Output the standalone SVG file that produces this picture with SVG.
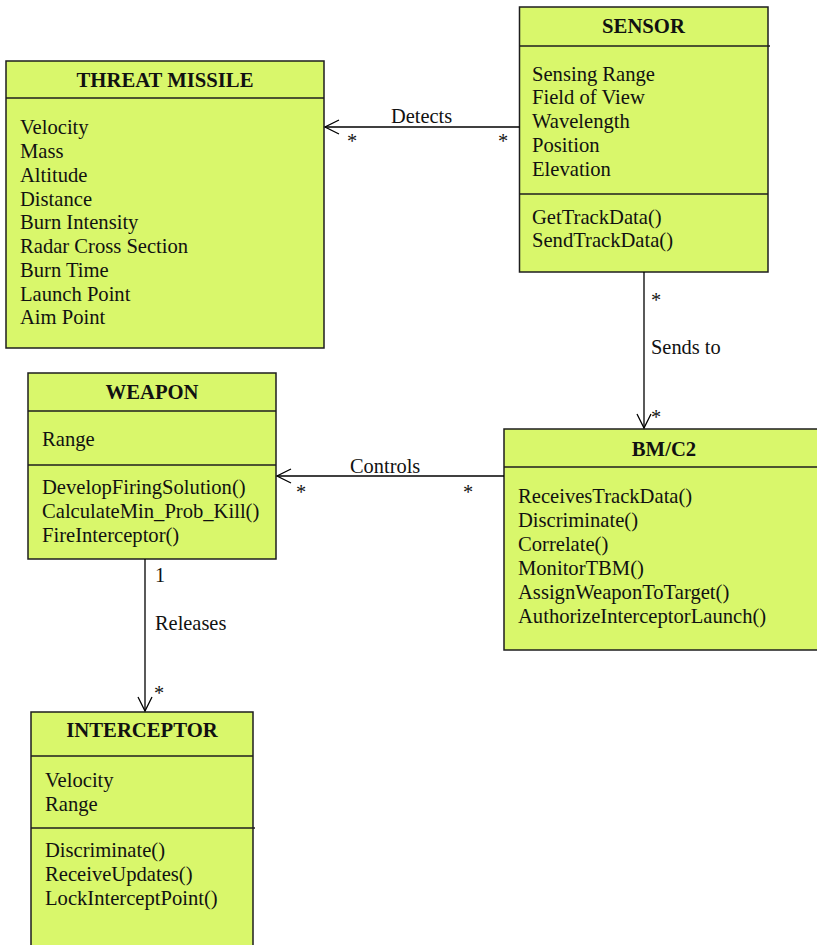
<svg xmlns="http://www.w3.org/2000/svg" width="817" height="945" viewBox="0 0 817 945">
  <style>
    .box { fill: #d9f76b; stroke: #1e1e1e; stroke-width: 1.5; }
    .div { stroke: #1e1e1e; stroke-width: 1.5; }
    .title { font-family: "Liberation Serif", "Times New Roman", serif; font-size: 20.7px; font-weight: bold; fill: #111; text-anchor: middle; }
    .txt { font-family: "Liberation Serif", "Times New Roman", serif; font-size: 20.6px; fill: #111; }
    .lbl { font-family: "Liberation Serif", "Times New Roman", serif; font-size: 20.4px; fill: #111; }
    .conn { stroke: #000; stroke-width: 1.3; fill: none; }
  </style>

  <!-- THREAT MISSILE class -->
  <g id="threat-missile">
    <rect class="box" x="6" y="61" width="318" height="287"/>
    <line class="div" x1="6" y1="98" x2="324" y2="98"/>
    <text class="title" x="165" y="87">THREAT MISSILE</text>
    <text class="txt" x="20" y="134">Velocity</text>
    <text class="txt" x="20" y="158">Mass</text>
    <text class="txt" x="20" y="182">Altitude</text>
    <text class="txt" x="20" y="206">Distance</text>
    <text class="txt" x="20" y="229">Burn Intensity</text>
    <text class="txt" x="20" y="253">Radar Cross Section</text>
    <text class="txt" x="20" y="277">Burn Time</text>
    <text class="txt" x="20" y="301">Launch Point</text>
    <text class="txt" x="20" y="324">Aim Point</text>
  </g>

  <!-- SENSOR class -->
  <g id="sensor">
    <rect class="box" x="519.5" y="7" width="248.5" height="265"/>
    <line class="div" x1="519.5" y1="46" x2="770" y2="46"/>
    <line class="div" x1="519.5" y1="194" x2="768" y2="194"/>
    <text class="title" x="643.5" y="33">SENSOR</text>
    <text class="txt" x="532" y="81">Sensing Range</text>
    <text class="txt" x="532" y="104">Field of View</text>
    <text class="txt" x="532" y="128">Wavelength</text>
    <text class="txt" x="532" y="152">Position</text>
    <text class="txt" x="532" y="176">Elevation</text>
    <text class="txt" x="532" y="224">GetTrackData()</text>
    <text class="txt" x="532" y="247">SendTrackData()</text>
  </g>

  <!-- WEAPON class -->
  <g id="weapon">
    <rect class="box" x="28" y="373" width="248" height="186"/>
    <line class="div" x1="28" y1="411" x2="276" y2="411"/>
    <line class="div" x1="28" y1="465" x2="276" y2="465"/>
    <text class="title" x="152" y="399">WEAPON</text>
    <text class="txt" x="42" y="446">Range</text>
    <text class="txt" x="42" y="494">DevelopFiringSolution()</text>
    <text class="txt" x="42" y="518">CalculateMin_Prob_Kill()</text>
    <text class="txt" x="42" y="542">FireInterceptor()</text>
  </g>

  <!-- BM/C2 class -->
  <g id="bmc2">
    <rect class="box" x="504" y="429" width="320" height="221"/>
    <line class="div" x1="504" y1="467" x2="824" y2="467"/>
    <text class="title" x="664" y="456">BM/C2</text>
    <text class="txt" x="518" y="503">ReceivesTrackData()</text>
    <text class="txt" x="518" y="527">Discriminate()</text>
    <text class="txt" x="518" y="551">Correlate()</text>
    <text class="txt" x="518" y="575">MonitorTBM()</text>
    <text class="txt" x="518" y="599">AssignWeaponToTarget()</text>
    <text class="txt" x="518" y="623">AuthorizeInterceptorLaunch()</text>
  </g>

  <!-- INTERCEPTOR class -->
  <g id="interceptor">
    <rect class="box" x="31" y="712" width="222" height="245"/>
    <line class="div" x1="31" y1="756" x2="253" y2="756"/>
    <line class="div" x1="31" y1="828" x2="255" y2="828"/>
    <text class="title" x="142" y="737">INTERCEPTOR</text>
    <text class="txt" x="45" y="787">Velocity</text>
    <text class="txt" x="45" y="811">Range</text>
    <text class="txt" x="45" y="857">Discriminate()</text>
    <text class="txt" x="45" y="881">ReceiveUpdates()</text>
    <text class="txt" x="45" y="905">LockInterceptPoint()</text>
  </g>

  <!-- Associations -->
  <g id="connectors">
    <!-- Detects: SENSOR -> THREAT MISSILE -->
    <line class="conn" x1="519.5" y1="127" x2="325" y2="127"/>
    <polyline class="conn" points="339,120 325,127 339,134"/>
    <text class="lbl" x="391" y="123">Detects</text>
    <text class="lbl" x="347" y="148">*</text>
    <text class="lbl" x="498" y="148">*</text>

    <!-- Sends to: SENSOR -> BM/C2 -->
    <line class="conn" x1="644" y1="272" x2="644" y2="428"/>
    <polyline class="conn" points="637,414 644,428 651,414"/>
    <text class="lbl" x="651" y="307">*</text>
    <text class="lbl" x="651" y="354">Sends to</text>
    <text class="lbl" x="651" y="424">*</text>

    <!-- Controls: BM/C2 -> WEAPON -->
    <line class="conn" x1="504" y1="476" x2="277" y2="476"/>
    <polyline class="conn" points="291,469 277,476 291,483"/>
    <text class="lbl" x="350" y="473">Controls</text>
    <text class="lbl" x="296" y="499">*</text>
    <text class="lbl" x="463" y="499">*</text>

    <!-- Releases: WEAPON -> INTERCEPTOR -->
    <line class="conn" x1="145" y1="559" x2="145" y2="711"/>
    <polyline class="conn" points="138,697 145,711 152,697"/>
    <text class="lbl" x="155" y="582">1</text>
    <text class="lbl" x="155" y="630">Releases</text>
    <text class="lbl" x="154" y="700">*</text>
  </g>
</svg>
